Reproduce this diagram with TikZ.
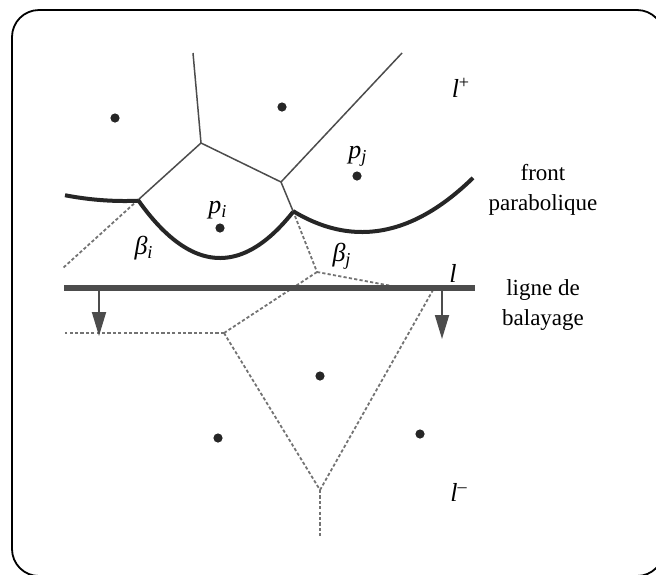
\documentclass[tikz,border=0pt]{standalone}
\usepackage{fontspec}
\setmainfont{Liberation Serif}
\usepackage{tikz}
\usetikzlibrary{arrows.meta}

\newcommand\subl[2]{\textit{#1}\textsubscript{\textit{#2}}}
\newcommand\supl[2]{\textit{#1}\textsuperscript{#2}}

\begin{document}
\begin{tikzpicture}[
    x=0.5pt, y=-0.5pt,
    frame/.style={draw=black, line width=0.9pt, rounded corners=13.5pt},
    edge/.style={draw=black!70, line width=0.75pt},
    future/.style={draw=black!55, line width=0.9pt, dash pattern=on 1.6pt off 1.1pt},
    beach/.style={draw=black!85, line width=2pt},
    sweep/.style={draw=black!70, line width=2.8pt},
    down/.style={draw=black!70, line width=0.9pt, -{Triangle[length=12pt,width=7pt]}},
    site/.style={circle, fill=black!85, inner sep=0pt, minimum size=4.6pt},
    lab/.style={font=\fontsize{13}{15}\selectfont, inner sep=0pt},
    side/.style={font=\fontsize{11.5}{15}\selectfont, align=center, inner sep=0pt},
]

\useasboundingbox (0,0) rectangle (656,574);
\clip (0,0) rectangle (656,574);

\draw[frame] (12,10) rectangle (664,576);

% sites
\node[site] (s1) at (115,118) {};
\node[site] (s2) at (282,107) {};
\node[site] (pj) at (357,176) {};
\node[site] (pi) at (220,228) {};
\node[site] (s5) at (320,376) {};
\node[site] (s6) at (218,438) {};
\node[site] (s7) at (420,434) {};

% voronoi vertices and breakpoints
\coordinate (A)  at (201,143);
\coordinate (B)  at (281,182);
\coordinate (bi) at (138,200);
\coordinate (bj) at (293,211);
\coordinate (C)  at (317,272);
\coordinate (V1) at (224,333);
\coordinate (V2) at (320,490);

% edges already traced
\draw[edge] (A) -- (193,53);
\draw[edge] (B) -- (402,53);
\draw[edge] (A) -- (B);
\draw[edge] (A) -- (bi);
\draw[edge] (B) -- (bj);

% edges still to come
\draw[future] (bi) -- (63,268);
\draw[future] (bj) -- (C);
\draw[future] (C) -- (392,286);
\draw[future] (C) -- (V1);
\draw[future] (V1) -- (65,333);
\draw[future] (V1) -- (V2);
\draw[future] (V2) -- (433,290);
\draw[future] (V2) -- (320,537);

% beach line
\draw[beach, domain=65:138, samples=30]  plot (\x, {201-0.0016*(\x-125)^2});
\draw[beach, domain=138:293, samples=50] plot (\x, {258-0.00863*(\x-220)^2});
\draw[beach, domain=293:473, samples=50] plot (\x, {232-0.0044*(\x-362)^2});

% sweep line
\draw[sweep] (64,288) coordinate (sl) -- (475,288) coordinate (sr);
\coordinate (al) at (99,288);
\coordinate (ar) at (442,288);
\draw[down] (al) -- (99,336);
\draw[down] (ar) -- (442,339);

% labels
\node[lab] (lplus)  at (461,88)  {\supl{l}{+}};
\node[lab] (lsweep) at (453,273) {\textit{l}};
\node[lab] (lminus) at (459,492) {\supl{l}{–}};
\node[lab] (tpi)    at (218,210) {\subl{p}{i}};
\node[lab] (tpj)    at (358,156) {\subl{p}{j}};
\node[lab] (tbi)    at (144,248) {\subl{β}{i}};
\node[lab] (tbj)    at (342,256) {\subl{β}{j}};

\node[side] (front) at (543,190) {front\\parabolique};
\node[side] (ligne) at (543,305) {ligne de\\balayage};
\end{tikzpicture}
\end{document}
